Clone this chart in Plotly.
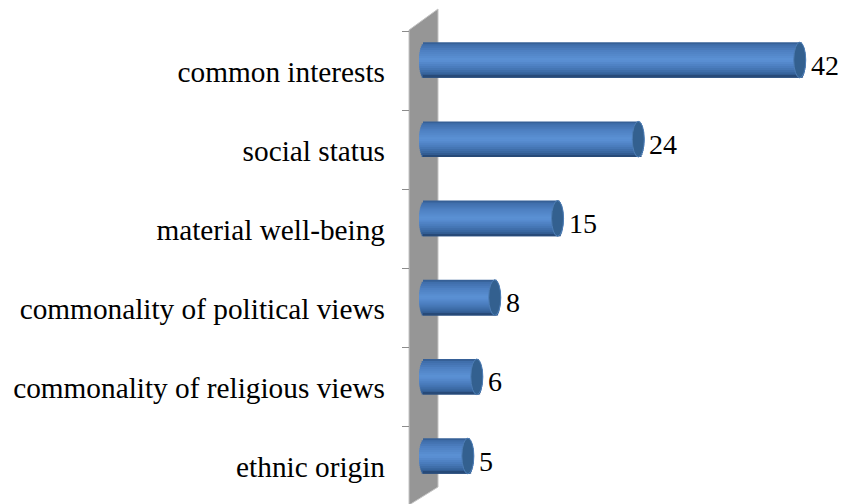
import math
import plotly.graph_objects as go

categories = ["common interests", "social status", "material well-being",
              "commonality of political views", "commonality of religious views", "ethnic origin"]
values = [42, 24, 15, 8, 6, 5]

W, H = 841, 504
PX_PER_UNIT = 8.97
ZERO_PX = 423
CAP_RX = 6 / PX_PER_UNIT
LEFT_C = 2 / PX_PER_UNIT
BAR_H = 0.45
NS = 18

stops = [(0, (44, 82, 130)), (0.05, (62, 108, 168)), (0.25, (78, 128, 194)), (0.5, (92, 146, 214)),
         (0.72, (72, 122, 186)), (0.9, (54, 98, 154)), (1, (34, 66, 108))]


def grad(t):
    for (a, ca), (b, cb) in zip(stops, stops[1:]):
        if t <= b:
            f = (t - a) / (b - a)
            return "rgb(%d,%d,%d)" % tuple(ca[i] + (cb[i] - ca[i]) * f for i in range(3))
    return "rgb(34,66,108)"


fig = go.Figure()
# invisible trace carrying the labelled category axis
fig.add_trace(go.Scatter(x=[0] * 6, y=categories, yaxis="y", mode="markers",
                         marker=dict(opacity=0), hoverinfo="skip", showlegend=False))
w = BAR_H / NS
for k in range(NS):
    t = (k + 0.5) / NS
    e = math.sqrt(max(0, 1 - (2 * t - 1) ** 2))
    left = LEFT_C - CAP_RX * e
    right = CAP_RX * e
    fig.add_trace(go.Bar(
        y=categories, x=[v + right - left for v in values], base=[left] * 6,
        orientation="h", yaxis="y2", width=w * (2 if k < NS - 1 else 1), offset=-BAR_H / 2 + k * w,
        marker=dict(color=grad(t), line_width=0), showlegend=False, hoverinfo="skip"))

shapes = [dict(type="path", path=f"M {409 / W} {1 - 30 / H} L {438 / W} {1 - 9 / H} L {438 / W} {1 - 487 / H} L {409 / W} {1 - 505 / H} Z",
               xref="paper", yref="paper", fillcolor="#969696", line=dict(color="#c4c4c4", width=1), layer="below")]
annotations = []
for c, v in zip(categories, values):
    i = categories.index(c)
    h = BAR_H / 2
    shapes.append(dict(type="circle", xref="x", yref="y2", x0=v - CAP_RX, x1=v + CAP_RX,
                       y0=i - h, y1=i + h, fillcolor="#33608f", line=dict(color="#4d7db5", width=1)))
    annotations.append(dict(x=v, y=c, xref="x", yref="y2", text=str(v), showarrow=False,
                            xanchor="left", xshift=9, yshift=-5,
                            font=dict(family="Liberation Serif", size=28, color="#000")))

fig.update_layout(
    width=W, height=H, margin=dict(l=0, r=0, t=0, b=0),
    paper_bgcolor="white", plot_bgcolor="white", barmode="overlay",
    font=dict(family="Liberation Serif", size=24, color="#000"),
    showlegend=False, shapes=shapes, annotations=annotations,
    xaxis=dict(range=[-ZERO_PX / PX_PER_UNIT, (W - ZERO_PX) / PX_PER_UNIT], visible=False, domain=[0, 1]),
    yaxis=dict(type="category", categoryorder="array", categoryarray=categories,
               range=[(H - 70.5) / 79, -70.5 / 79], anchor="free", position=409 / W,
               showgrid=False, zeroline=False, showline=False,
               ticks="outside", ticklen=7, tickcolor="#8c8c8c", tickwidth=1, tickson="boundaries",
               ticklabelstandoff=24, ticklabelshift=-1,
               tickfont=dict(family="Liberation Serif", size=29.3, color="#000")),
    yaxis2=dict(type="category", categoryorder="array", categoryarray=categories,
                range=[(H - 60) / 79.2, -60 / 79.2], overlaying="y", visible=False),
)
fig.write_html("out.html", config={"displayModeBar": False}, post_script="document.body.style.margin='0';")
